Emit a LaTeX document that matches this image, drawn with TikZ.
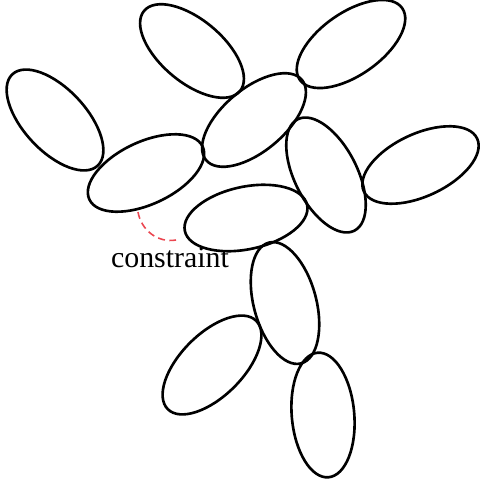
\documentclass[tikz,border=0pt]{standalone}
\usepackage{fontspec}
\setmainfont{Liberation Serif}
\usetikzlibrary{shapes.geometric}
\definecolor{constraintred}{RGB}{235,70,80}
\begin{document}
\begin{tikzpicture}[x=1cm,y=1cm,
  link/.style={draw, ellipse, line width=1.5pt, inner sep=0pt, minimum width=2.5cm, minimum height=1.25cm},
  constraint/.style={draw=constraintred, line width=0.9pt, dash pattern=on 4pt off 2.5pt}]
\useasboundingbox (0,0) rectangle (9.6,-9.64);
\node[link, rotate=-40] (a) at (3.84,-1.02) {};
\node[link, rotate=35] (b) at (7.02,-0.88) {};
\node[link, rotate=-47] (c) at (1.10,-2.40) {};
\node[link, rotate=40] (d) at (5.08,-2.40) {};
\node[link, rotate=25] (e) at (2.92,-3.46) {};
\node[link, rotate=-63] (f) at (6.52,-3.50) {};
\node[link, rotate=25] (g) at (8.41,-3.30) {};
\node[link, rotate=12] (h) at (4.92,-4.36) {};
\node[link, rotate=-75] (i) at (5.70,-6.06) {};
\node[link, rotate=45] (j) at (4.24,-7.30) {};
\node[link, rotate=-85] (k) at (6.46,-8.30) {};
\coordinate (p) at (2.76,-4.24);
\coordinate (q) at (3.52,-4.80);
\draw[constraint] (p) to[out=-80, in=190] (q);
\node[font=\fontsize{17}{20}\selectfont] (lbl) at (3.40,-5.16) {constraint};
\end{tikzpicture}
\end{document}
